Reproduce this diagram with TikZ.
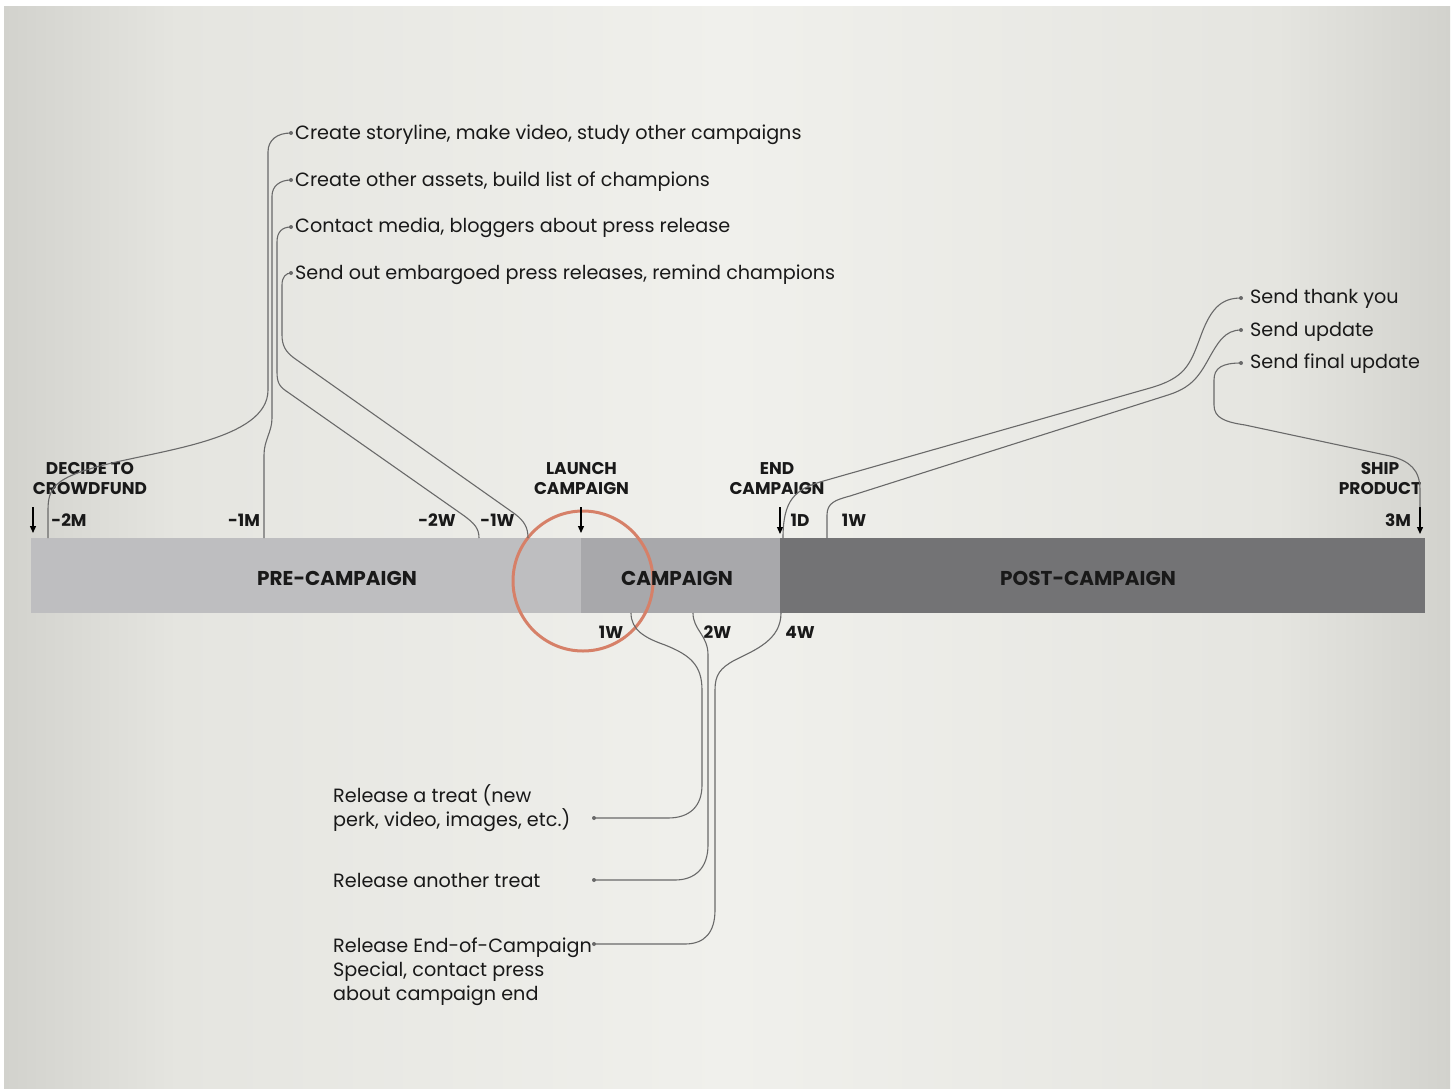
\documentclass[tikz,border=0pt]{standalone}
\usepackage{fontspec}
\setmainfont{Poppins}
\usetikzlibrary{arrows.meta}
\definecolor{bgmid}{RGB}{240,240,236}
\definecolor{bgside}{RGB}{229,229,224}
\definecolor{bgedge}{RGB}{210,210,205}
\definecolor{preC}{RGB}{190,190,192}
\definecolor{campC}{RGB}{168,168,171}
\definecolor{postC}{RGB}{115,115,117}
\definecolor{ring}{RGB}{214,128,104}
\definecolor{linkC}{RGB}{105,105,105}
\definecolor{txt}{RGB}{25,25,25}
\pgfdeclarehorizontalshading{bgshade}{100bp}{color(0bp)=(bgedge); color(25bp)=(bgedge); color(31bp)=(bgside); color(50bp)=(bgmid); color(69bp)=(bgside); color(75bp)=(bgedge); color(100bp)=(bgedge)}
\begin{document}
\begin{tikzpicture}[x=1pt,y=-1pt,
  task/.style={anchor=base west, inner sep=0pt, font=\fontsize{19.2}{22}\selectfont, text=txt},
  phase/.style={inner sep=0pt, font=\bfseries\fontsize{20}{22}\selectfont, text=txt},
  evlabel/.style={anchor=base, inner sep=0pt, font=\bfseries\fontsize{17}{19}\selectfont, text=txt},
  ticklbl/.style={anchor=base, inner sep=0pt, font=\bfseries\fontsize{17}{19}\selectfont, text=txt},
  link/.style={draw=linkC, line width=1.1pt},
  evarrow/.style={draw=black, line width=1.3pt, -{Triangle[length=7pt,width=6pt]}},
  dotc/.style={circle, fill=linkC, inner sep=0pt, minimum size=4pt}
]
\useasboundingbox (0,0) rectangle (1453,1089);
\fill[white] (0,0) rectangle (1453,1089);
\shade[shading=bgshade] (4,7) rectangle (1450,1089);

% timeline bar
\fill[preC] (31,538) rectangle (581,613);
\fill[campC] (581,538) rectangle (780,613);
\fill[postC] (780,538) rectangle (1425,613);
\draw[ring, line width=3pt] (583,581) circle[radius=70pt];

\node[phase] (pre) at (337,578) {PRE-CAMPAIGN};
\node[phase] (camp) at (677,578) {CAMPAIGN};
\node[phase] (post) at (1088,578) {POST-CAMPAIGN};

% event labels
\node[evlabel] (decide1) at (90,474) {DECIDE TO};
\node[evlabel] (decide2) at (90,494) {CROWDFUND};
\node[evlabel] (launch1) at (581.5,474) {LAUNCH};
\node[evlabel] (launch2) at (581.5,494) {CAMPAIGN};
\node[evlabel] (end1) at (777,474) {END};
\node[evlabel] (end2) at (777,494) {CAMPAIGN};
\node[evlabel] (ship1) at (1380,474) {SHIP};
\node[evlabel] (ship2) at (1380,494) {PRODUCT};

% event arrows
\coordinate (aDs) at (33,507);  \coordinate (aDe) at (33,533);
\coordinate (aLs) at (581,507); \coordinate (aLe) at (581,533);
\coordinate (aEs) at (780,507); \coordinate (aEe) at (780,534);
\coordinate (aSs) at (1420,507);\coordinate (aSe) at (1420,534);
\draw[evarrow] (aDs) -- (aDe);
\draw[evarrow] (aLs) -- (aLe);
\draw[evarrow] (aEs) -- (aEe);
\draw[evarrow] (aSs) -- (aSe);

% tick labels
\node[ticklbl] (l2M) at (69,526.5) {-2M};
\node[ticklbl] (l1M) at (244,526.5) {-1M};
\node[ticklbl] (l2W) at (437,526.5) {-2W};
\node[ticklbl] (l1W) at (497.5,526.5) {-1W};
\node[ticklbl] (l1D) at (800,526.5) {1D};
\node[ticklbl] (lp1W) at (854,526.5) {1W};
\node[ticklbl] (l3M) at (1398,526.5) {3M};
\node[ticklbl] (lc1W) at (611,638.5) {1W};
\node[ticklbl] (lc2W) at (717.5,638.5) {2W};
\node[ticklbl] (lc4W) at (800,638.5) {4W};

% tick points on bar
\coordinate (k2M) at (48,538);
\coordinate (k1M) at (264,538);
\coordinate (k2W) at (479,538);
\coordinate (k1W) at (528,538);
\coordinate (k1D) at (783,538);
\coordinate (kp1W) at (827,538);
\coordinate (kc1W) at (631,613);
\coordinate (kc2W) at (693,613);
\coordinate (kc4W) at (781,613);

% top tasks
\node[task] (t1) at (295,139.5) {Create storyline, make video, study other campaigns};
\node[task] (t2) at (295,186.5) {Create other assets, build list of champions};
\node[task] (t3) at (295,232.5) {Contact media, bloggers about press release};
\node[task] (t4) at (295,279.5) {Send out embargoed press releases, remind champions};
\node[dotc] (d1) at (291,133) {};
\node[dotc] (d2) at (291,180) {};
\node[dotc] (d3) at (291,227) {};
\node[dotc] (d4) at (291,273) {};

\draw[link] (d1.center) .. controls (277,133) and (268,140) .. (268,152) -- (268,390)
  .. controls (268,440) and (160,450) .. (100,466)
  .. controls (55,478) and (48,488) .. (48,510) -- (k2M);
\draw[link] (d2.center) .. controls (280,180) and (272,186) .. (272,196) -- (272,418)
  .. controls (272,432) and (264,440) .. (264,455) -- (k1M);
\draw[link] (d3.center) .. controls (282,227) and (277,232) .. (277,242) -- (277,372)
  .. controls (277,384) and (280,387) .. (289,393) -- (463,515)
  .. controls (474,523) and (479,528) .. (k2W);
\draw[link] (d4.center) .. controls (286,273) and (282,277) .. (282,285) -- (282,335)
  .. controls (282,346) and (286,352) .. (294,358) -- (515,514)
  .. controls (524,521) and (528,527) .. (k1W);

% right tasks
\node[task] (r1) at (1250,303.5) {Send thank you};
\node[task] (r2) at (1250,336.5) {Send update};
\node[task] (r3) at (1250,368.5) {Send final update};
\node[dotc] (e1) at (1241,298) {};
\node[dotc] (e2) at (1241,330) {};
\node[dotc] (e3) at (1241,363) {};

\draw[link] (k1D) .. controls (783,500) and (795,490) .. (820,482) -- (1150,388)
  .. controls (1185,378) and (1190,365) .. (1200,338)
  .. controls (1210,310) and (1220,298) .. (e1.center);
\draw[link] (kp1W) -- (827,515) .. controls (827,503) and (835,500) .. (850,496) -- (1168,395)
  .. controls (1190,388) and (1198,378) .. (1208,360)
  .. controls (1218,342) and (1225,330) .. (e2.center);
\draw[link] (e3.center) .. controls (1222,363) and (1214,368) .. (1214,380) -- (1214,405)
  .. controls (1214,418) and (1225,422) .. (1245,425) -- (1390,456)
  .. controls (1410,461) and (1420,470) .. (1420,490) -- (aSs);

% bottom tasks
\node[task] (b1a) at (333,802.5) {Release a treat (new};
\node[task] (b1b) at (333,826.5) {perk, video, images, etc.)};
\node[task] (b2) at (333,887.5) {Release another treat};
\node[task] (b3a) at (333,952.5) {Release End-of-Campaign};
\node[task] (b3b) at (333,976.5) {Special, contact press};
\node[task] (b3c) at (333,1000.5) {about campaign end};
\node[dotc] (f1) at (594,818) {};
\node[dotc] (f2) at (594,880) {};
\node[dotc] (f3) at (594,944) {};

\draw[link] (kc1W) .. controls (631,630) and (645,638) .. (665,645)
  .. controls (690,655) and (702,665) .. (702,690) -- (702,785)
  .. controls (702,806) and (690,818) .. (668,818) -- (f1.center);
\draw[link] (kc2W) .. controls (693,630) and (708,635) .. (708,655) -- (708,845)
  .. controls (708,868) and (695,880) .. (675,880) -- (f2.center);
\draw[link] (kc4W) .. controls (781,640) and (755,650) .. (735,660)
  .. controls (720,668) and (715,675) .. (715,690) -- (715,910)
  .. controls (715,932) and (705,944) .. (685,944) -- (f3.center);
\end{tikzpicture}
\end{document}
